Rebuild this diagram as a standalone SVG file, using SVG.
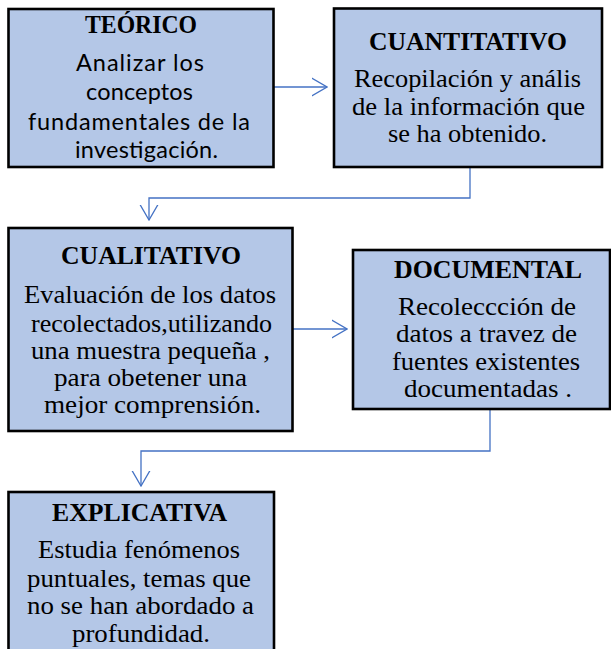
<svg xmlns="http://www.w3.org/2000/svg" width="611" height="649" viewBox="0 0 611 649">
<style>
.box{fill:#b4c7e7;stroke:#000;stroke-width:2.6}
.t{font-family:"Liberation Serif","Times New Roman",serif;font-weight:bold;font-size:26px;fill:#000}
.s{font-family:"Liberation Serif","Times New Roman",serif;font-size:25px;fill:#000}
.c{font-family:Lato,"Liberation Sans",sans-serif;font-size:23.5px;fill:#000}
.con{fill:none;stroke:#4472c4;stroke-width:1.3}
</style>
<defs>
<marker id="arr" viewBox="0 0 16 20" refX="15.5" refY="10" markerWidth="16" markerHeight="20" markerUnits="userSpaceOnUse" orient="auto">
<path d="M0,1 L15.5,10 L0,19" fill="none" stroke="#4472c4" stroke-width="1.3"/>
</marker>
</defs>
<rect width="611" height="649" fill="#fff"/>
<g id="connectors">
<path class="con" d="M274,87 H327" marker-end="url(#arr)"/>
<path class="con" d="M470,167 V198 H149 V220" marker-end="url(#arr)"/>
<path class="con" d="M293,329 H347" marker-end="url(#arr)"/>
<path class="con" d="M490,409 V451 H141 V486" marker-end="url(#arr)"/>
</g>
<g id="teorico">
<rect class="box" x="8.5" y="9" width="265" height="158"/>
<text class="t" x="85" y="33" textLength="112" lengthAdjust="spacingAndGlyphs">TEÓRICO</text>
<text class="c" x="76" y="71" textLength="128">Analizar los</text>
<text class="c" x="86" y="100" textLength="107">conceptos</text>
<text class="c" x="28" y="130" textLength="222">fundamentales de la</text>
<text class="c" x="75" y="158" textLength="143">investigación.</text>
</g>
<g id="cuantitativo">
<rect class="box" x="334" y="8.5" width="268" height="158.5"/>
<text class="t" x="369" y="50" textLength="198" lengthAdjust="spacingAndGlyphs">CUANTITATIVO</text>
<text class="s" x="354" y="87" textLength="227" lengthAdjust="spacingAndGlyphs">Recopilación  y anális</text>
<text class="s" x="352" y="115" textLength="233" lengthAdjust="spacingAndGlyphs">de la información  que</text>
<text class="s" x="388" y="142" textLength="159" lengthAdjust="spacingAndGlyphs">se ha obtenido.</text>
</g>
<g id="cualitativo">
<rect class="box" x="8.5" y="228" width="284" height="203"/>
<text class="t" x="61" y="264" textLength="180" lengthAdjust="spacingAndGlyphs">CUALITATIVO</text>
<text class="s" x="24" y="303" textLength="252" lengthAdjust="spacingAndGlyphs">Evaluación de los datos</text>
<text class="s" x="31" y="332" textLength="241" lengthAdjust="spacingAndGlyphs">recolectados,utilizando</text>
<text class="s" x="31" y="359" textLength="239" lengthAdjust="spacingAndGlyphs">una muestra pequeña ,</text>
<text class="s" x="54" y="386" textLength="193" lengthAdjust="spacingAndGlyphs">para obetener una</text>
<text class="s" x="44" y="413" textLength="217" lengthAdjust="spacingAndGlyphs">mejor comprensión.</text>
</g>
<g id="documental">
<rect class="box" x="353" y="250" width="257" height="159"/>
<text class="t" x="394" y="278" textLength="188" lengthAdjust="spacingAndGlyphs">DOCUMENTAL</text>
<text class="s" x="398" y="315" textLength="178" lengthAdjust="spacingAndGlyphs">Recoleccción de</text>
<text class="s" x="396" y="342" textLength="181" lengthAdjust="spacingAndGlyphs">datos a travez de</text>
<text class="s" x="392" y="370" textLength="188" lengthAdjust="spacingAndGlyphs">fuentes existentes</text>
<text class="s" x="404" y="397" textLength="168" lengthAdjust="spacingAndGlyphs">documentadas .</text>
</g>
<g id="explicativa">
<rect class="box" x="8.5" y="492" width="265.5" height="170"/>
<text class="t" x="52" y="521" textLength="175" lengthAdjust="spacingAndGlyphs">EXPLICATIVA</text>
<text class="s" x="38" y="558" textLength="202" lengthAdjust="spacingAndGlyphs">Estudia fenómenos</text>
<text class="s" x="27" y="587" textLength="224" lengthAdjust="spacingAndGlyphs">puntuales, temas que</text>
<text class="s" x="27" y="614" textLength="227" lengthAdjust="spacingAndGlyphs">no se han abordado a</text>
<text class="s" x="72" y="642" textLength="138" lengthAdjust="spacingAndGlyphs">profundidad.</text>
</g>
</svg>
